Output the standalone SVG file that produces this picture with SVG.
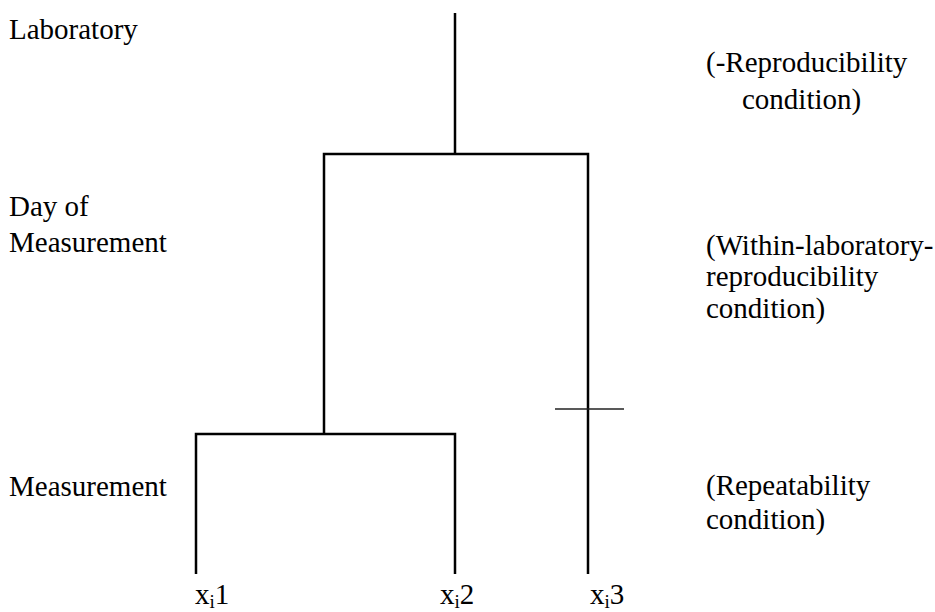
<svg xmlns="http://www.w3.org/2000/svg" width="935" height="612" viewBox="0 0 935 612">
<style>
.t{font-family:'Liberation Serif','Times New Roman',Tinos,'DejaVu Serif',serif;font-size:29px;fill:#000}
.sub{font-size:19px}
.ln{stroke:#000;stroke-width:2.5;fill:none}
.tick{stroke:#222;stroke-width:1.6;fill:none}
</style>
<rect width="935" height="612" fill="#fff"/>
<g id="connectors">
<path class="ln" d="M455,13 V154"/>
<path class="ln" d="M324,434 V154 H588 V574"/>
<path class="ln" d="M196,574 V434 H455 V574"/>
<path class="tick" d="M555,409 H624"/>
</g>
<g class="t" font-family="Liberation Serif, serif">
<g id="label-laboratory"><text x="9" y="39">Laboratory</text></g>
<g id="label-day"><text x="9" y="216">Day of</text><text x="9" y="252">Measurement</text></g>
<g id="label-measurement"><text x="9" y="496">Measurement</text></g>
<g id="cond-reproducibility"><text x="706" y="72">(-Reproducibility</text><text x="742" y="109">condition)</text></g>
<g id="cond-within"><text x="706" y="255">(Within-laboratory-</text><text x="706" y="286">reproducibility</text><text x="706" y="318">condition)</text></g>
<g id="cond-repeat"><text x="706" y="495">(Repeatability</text><text x="706" y="529">condition)</text></g>
<g id="xi1"><text x="195" y="604">x<tspan class="sub" dy="4">i</tspan><tspan dy="-4">1</tspan></text></g>
<g id="xi2"><text x="440" y="604">x<tspan class="sub" dy="4">i</tspan><tspan dy="-4">2</tspan></text></g>
<g id="xi3"><text x="590" y="604">x<tspan class="sub" dy="4">i</tspan><tspan dy="-4">3</tspan></text></g>
</g>
</svg>
